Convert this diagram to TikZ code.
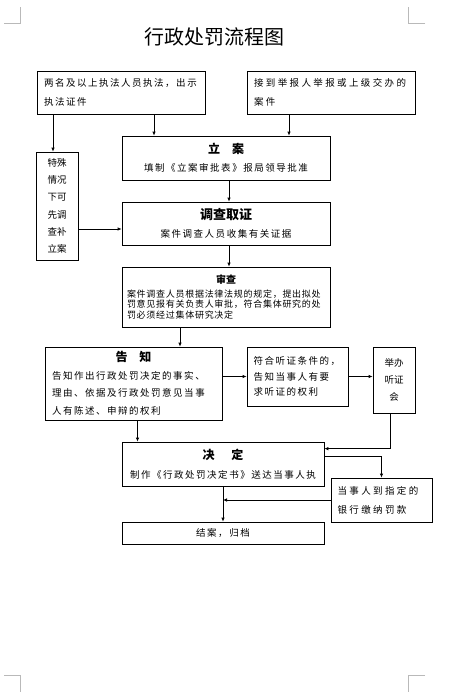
\documentclass[tikz,border=0pt]{standalone}
\usepackage{fontspec}
\setmainfont{Noto Sans CJK SC}
\newfontfamily\cjkspaced[LetterSpace=16]{Noto Sans CJK SC}
\newfontfamily\cjkwide[LetterSpace=25]{Noto Sans CJK SC}
\newfontfamily\cjktight[LetterSpace=8]{Noto Sans CJK SC}
\usetikzlibrary{arrows.meta}

\begin{document}
\begin{tikzpicture}[
		x=1pt, y=-1pt,
		box/.style 2 args={draw, line width=0.7pt, inner sep=0pt, minimum width=#1pt, minimum height=#2pt},
		body/.style={font=\cjkspaced\fontsize{9.5}{19}\selectfont},
		arr/.style={-{Latex[length=4pt,width=3.5pt]}, line width=0.7pt},
		crop/.style={gray!55, line width=0.6pt}
	]
	\fill[white] (0,0) rectangle (456,693);
	\useasboundingbox (0,0) rectangle (456,693);
	\draw[crop] (4,23.3) -- (20.7,23.3) -- (20.7,7);
	\draw[crop] (425,23.3) -- (408.3,23.3) -- (408.3,7);
	\draw[crop] (4,675) -- (20.7,675) -- (20.7,692);
	\draw[crop] (425,675) -- (408.3,675) -- (408.3,692);

	\node[font=\fontsize{20}{24}\selectfont] (title) at (214,37) {行政处罚流程图};

	\node[box={168}{43}, body, text width=154pt, align=left] (A) at (121,92.5)
		{两名及以上执法人员执法，出示\\执法证件};
	\node[box={168}{43}, font=\cjkwide\fontsize{9.5}{19}\selectfont, text width=154pt, align=left] (B) at (331,92.5)
		{接到举报人举报或上级交办的\\案件};
	\node[box={208}{44}, font=\cjkspaced\fontsize{9.5}{18}\selectfont, align=center] (lian) at (226,158)
		{{\rmfamily\bfseries\fontsize{12}{12}\selectfont 立\hspace{12pt}案}\\填制《立案审批表》报局领导批准};
	\node[box={42}{108}, font=\fontsize{9.5}{17.3}\selectfont, align=center] (spec) at (57,206)
		{特殊\\情况\\下可\\先调\\查补\\立案};
	\node[box={208}{43}, font=\cjkspaced\fontsize{9.5}{17.5}\selectfont, align=center] (diao) at (226,223.5)
		{{\rmfamily\bfseries\fontsize{13}{13}\selectfont 调查取证}\\案件调查人员收集有关证据};
	\node[box={208}{60}, font=\cjktight\fontsize{9}{10.5}\selectfont, text width=198pt, align=left] (shen) at (226,297)
		{\hfill{\rmfamily\bfseries\fontsize{10}{10}\selectfont 审查}\hfill\null\\[3pt]
		案件调查人员根据法律法规的规定，提出拟处\\罚意见报有关负责人审批，符合集体研究的处\\罚必须经过集体研究决定};
	\node[box={177}{73}, font=\cjkspaced\fontsize{9.5}{17.5}\selectfont, text width=163pt, align=left] (gao) at (133.5,383.5)
		{\hfill{\rmfamily\bfseries\fontsize{12}{12}\selectfont 告\hspace{12pt}知}\hfill\null\\
		告知作出行政处罚决定的事实、\\理由、依据及行政处罚意见当事\\人有陈述、申辩的权利};
	\node[box={101}{59}, font=\cjkspaced\fontsize{9.5}{15.5}\selectfont, text width=88pt, align=left] (ting) at (297.5,376.5)
		{符合听证条件的，\\告知当事人有要\\求听证的权利};
	\node[box={42}{66}, font=\fontsize{9.5}{17}\selectfont, align=center] (jub) at (394,380)
		{举办\\听证\\会};
	\node[box={202}{44}, font=\cjkspaced\fontsize{9.5}{18.5}\selectfont, align=center] (jue) at (223,464)
		{{\rmfamily\bfseries\fontsize{12}{12}\selectfont 决\hspace{17pt}定}\\制作《行政处罚决定书》送达当事人执};
	\node[box={101}{44}, font=\cjkwide\fontsize{9.5}{19}\selectfont, text width=88pt, align=left] (pay) at (381.5,500)
		{当事人到指定的\\银行缴纳罚款};
	\node[box={202}{22}, body, align=center] (jie) at (223,533)
		{结案，归档};

	\draw[arr] ([xshift=-4pt]spec.north |- A.south) -- ([xshift=-4pt]spec.north);
	\draw[arr] ([xshift=-72pt]lian.north |- A.south) -- ([xshift=-72pt]lian.north);
	\draw[arr] ([xshift=63pt]lian.north |- B.south) -- ([xshift=63pt]lian.north);
	\draw[arr] ([xshift=3pt]lian.south) -- ([xshift=3pt]diao.north);
	\draw[arr] ([yshift=-23pt]spec.east) -- ([yshift=-23pt]spec.east -| diao.west);
	\draw[arr] ([xshift=3pt]diao.south) -- ([xshift=3pt]shen.north);
	\draw[arr] ([xshift=-46pt]shen.south) -- ([xshift=-46pt]shen.south |- gao.north);
	\draw[arr] (ting.west -| gao.east) -- (ting.west);
	\draw[arr] (ting.east) -- (ting.east -| jub.west);
	\draw[arr] ([xshift=4pt]gao.south) -- ([xshift=4pt]gao.south |- jue.north);
	\draw[arr] ([xshift=-4pt]jub.south) |- ([yshift=-7pt]jue.north east);
	\draw[arr] ([yshift=-15pt]jue.north east) -| (pay.north);
	\draw[arr] (jue.south) -- (jie.north);
	\draw[arr] (pay.west) -- (pay.west -| jie.north);
\end{tikzpicture}
\end{document}
